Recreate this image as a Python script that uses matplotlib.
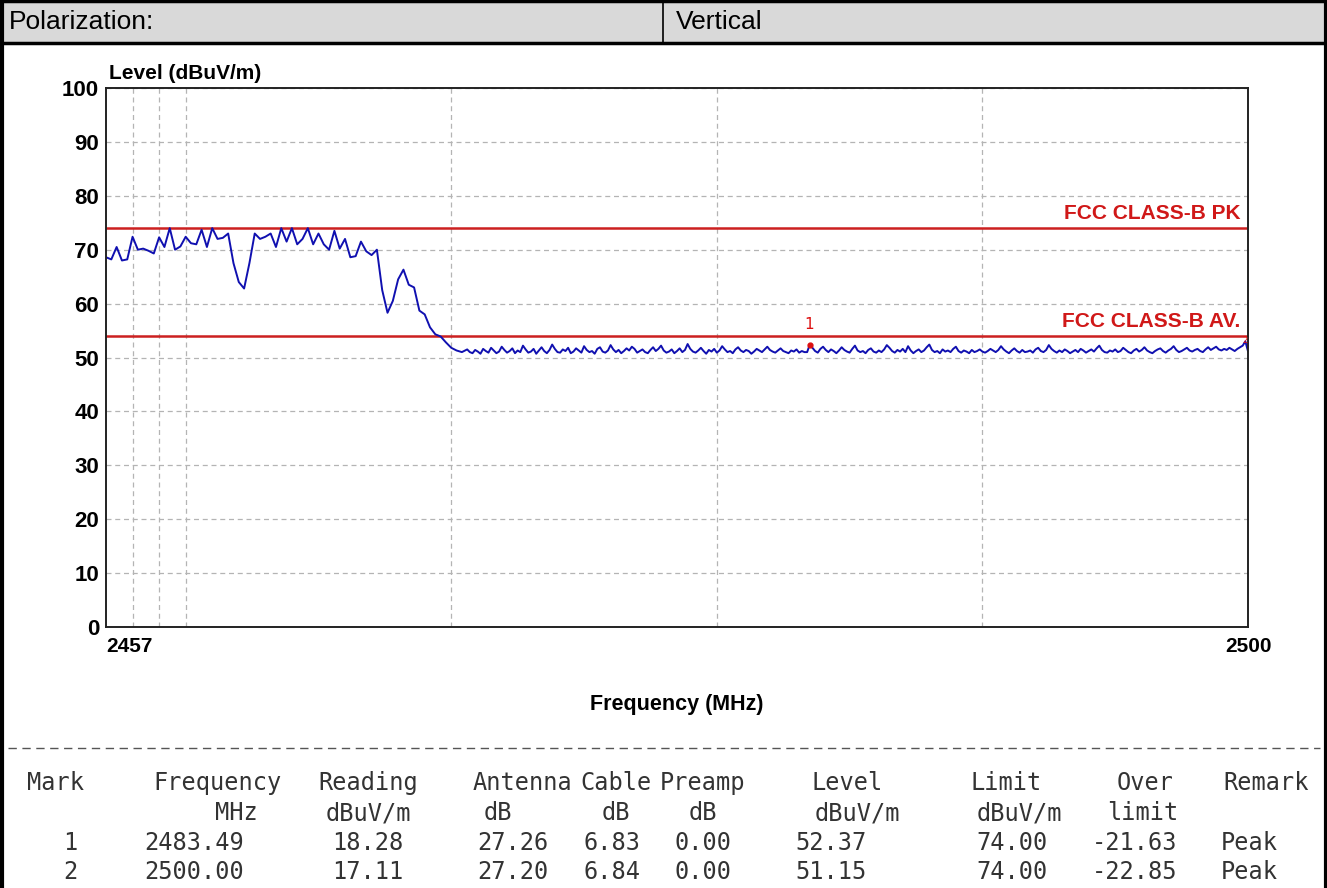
import numpy as np
import matplotlib
matplotlib.use("Agg")
import matplotlib.pyplot as plt
from matplotlib.patches import Rectangle
from matplotlib.lines import Line2D

# sweep, first part (0.2 MHz step from 2457 MHz)
level_head = [68.6, 68.2, 70.5, 68.0, 68.2, 72.4, 70.0, 70.2, 69.8, 69.3,
              72.3, 70.5, 74.0, 70.0, 70.6, 72.4, 71.2, 71.0, 73.7, 70.5,
              74.0, 72.0, 72.2, 73.0, 67.5, 64.0, 62.8, 67.5, 73.0, 72.0,
              72.4, 73.0, 70.5, 74.0, 71.5, 74.0, 71.0, 72.0, 74.0, 71.0,
              73.0, 71.0, 70.0, 73.5, 70.2, 72.0, 68.6, 68.8, 71.5, 69.7,
              69.0, 70.0, 62.5, 58.3, 60.5, 64.5, 66.3, 63.5, 63.0, 58.7,
              58.0, 55.6, 54.3, 53.9, 52.8, 51.8, 51.3, 51.0, 51.5]

# sweep, flat part (2470.7 .. 2500 MHz)
level_tail = [
    51.0, 50.8, 51.4, 51.1, 50.7, 51.6, 51.2, 50.9, 51.8, 51.3, 50.8, 51.1, 52.0, 51.4, 50.9,
    51.2, 51.7, 50.8, 51.3, 51.0, 52.2, 51.5, 50.9, 51.1, 51.6, 50.7, 51.3, 51.9, 51.2, 50.8,
    51.4, 52.4, 51.6, 51.0, 50.9, 51.5, 51.2, 51.8, 50.8, 51.1, 51.7, 51.3, 50.9, 52.1, 51.4,
    51.0, 51.2, 50.7, 51.6, 51.9, 51.1, 50.9, 51.3, 52.3, 51.5, 51.0, 51.4, 50.8, 51.2, 51.7,
    51.3, 52.0, 51.6, 50.9, 51.2, 51.5, 51.0, 50.8, 51.4, 51.9, 51.2, 51.6, 52.2, 51.3, 50.9,
    51.1, 51.5, 50.8, 51.2, 51.7, 51.0, 51.4, 52.5, 51.6, 51.1, 50.9, 51.3, 51.8, 51.2, 50.7,
    51.4, 51.1, 51.6, 50.9, 51.3, 52.1, 51.5, 51.0, 51.2, 50.8, 51.5, 51.9, 51.3, 51.0, 51.4,
    51.2, 50.7, 51.1, 51.6, 51.3, 51.0, 51.5, 52.0, 51.4, 51.1, 50.9, 51.3, 51.7, 51.2, 51.0,
    50.8, 51.3, 51.1, 51.5, 50.9, 51.2, 51.0, 51.0, 52.4, 51.8, 51.2, 50.9, 51.6, 52.0, 51.4,
    51.0, 51.5, 51.2, 50.8, 51.3, 51.9, 51.4, 51.1, 50.9, 51.6, 52.2, 51.3, 51.0, 51.2, 50.8,
    51.4, 51.7, 51.1, 50.9, 51.3, 51.0, 51.5, 52.3, 51.8, 51.2, 50.9, 51.4, 51.1, 51.6, 51.0,
    52.1, 51.3, 50.8, 51.2, 51.5, 51.0, 51.3, 51.9, 52.4, 51.4, 51.0, 51.2, 50.8, 51.5, 51.1,
    51.3, 51.0, 51.6, 52.0, 51.2, 50.9, 51.3, 51.1, 50.8, 51.4, 51.0, 51.2, 51.5, 51.1, 50.9,
    51.2, 51.6, 51.3, 51.0, 51.4, 52.1, 51.5, 51.1, 50.8, 51.3, 51.7, 51.2, 50.9, 51.4, 51.0,
    51.1, 51.3, 50.9, 51.5, 51.8, 51.2, 51.0, 51.4, 52.3, 51.6, 51.2, 50.9, 51.3, 51.0, 51.5,
    51.2, 50.8, 51.1, 51.4, 51.0, 51.6, 51.3, 50.9, 51.2, 51.5, 51.1, 51.7, 52.2, 51.4, 51.0,
    50.9, 51.3, 51.1, 51.5, 51.0, 51.2, 51.8, 51.4, 51.0, 50.8, 51.3, 51.6, 51.1, 51.4, 51.9,
    51.3, 51.0, 50.8, 51.2, 51.5, 51.7, 51.2, 50.9, 51.3, 51.6, 52.1, 51.4, 51.0, 51.2, 51.5,
    51.8, 51.3, 51.1, 51.4, 51.6, 51.2, 51.0, 51.5, 51.9, 51.4, 51.7, 52.0, 51.5, 51.3, 51.6,
    51.4, 51.8, 51.5, 51.2, 51.6, 51.9, 52.2, 53.0, 51.15]

freq_head = 2457.0 + 0.2 * np.arange(len(level_head))
freq_tail = np.linspace(2470.7, 2500.0, len(level_tail))
freq = np.concatenate([freq_head, freq_tail])
level = np.concatenate([level_head, level_tail])

limit_pk = 74.0
limit_av = 54.0
x_grid = [2458, 2459, 2460, 2470, 2480, 2490]
y_ticks = [0, 10, 20, 30, 40, 50, 60, 70, 80, 90, 100]

marker_freq = [2483.49, 2500.00]
marker_level = [52.37, 51.15]

tbl_head = ["Mark", "Frequency", "Reading", "Antenna", "Cable", "Preamp", "Level", "Limit", "Over", "Remark"]
tbl_unit = ["", "MHz", "dBuV/m", "dB", "dB", "dB", "dBuV/m", "dBuV/m", "limit", ""]
tbl_rows = [
    ["1", "2483.49", "18.28", "27.26", "6.83", "0.00", "52.37", "74.00", "-21.63", "Peak"],
    ["2", "2500.00", "17.11", "27.20", "6.84", "0.00", "51.15", "74.00", "-22.85", "Peak"],
]

W, H = 1327, 888
def fx(px):
    return px / W
def fy(py):
    return 1 - py / H

fig = plt.figure(figsize=(W / 100, H / 100), dpi=100)
sans = ["Liberation Sans", "DejaVu Sans"]

# header band and frame
fig.patches.append(Rectangle((0, fy(43)), 1, 43 / H, transform=fig.transFigure,
                             facecolor="#d9d9d9", edgecolor="none"))
fig.add_artist(Line2D([fx(663), fx(663)], [fy(0), fy(43)], color="black", lw=1.2))
fig.add_artist(Line2D([0, 1], [fy(43), fy(43)], color="black", lw=2.5))
fig.add_artist(Line2D([0, 1], [fy(1), fy(1)], color="black", lw=2.5))
fig.add_artist(Line2D([fx(1.5), fx(1.5)], [0, 1], color="black", lw=3))
fig.add_artist(Line2D([fx(1325.5), fx(1325.5)], [0, 1], color="black", lw=3))
fig.text(fx(9), fy(22), "Polarization:", fontsize=19, family=sans, va="center")
fig.text(fx(676), fy(22), "Vertical", fontsize=19, family=sans, va="center")

# chart
ax = fig.add_axes([fx(106), fy(627), fx(1248) - fx(106), fy(88) - fy(627)])
ax.set_xlim(2457, 2500)
ax.set_ylim(0, 100)
ax.set_yticks(y_ticks)
ax.set_yticklabels([str(v) for v in y_ticks], fontsize=16, fontweight="bold", family=sans)
ax.set_xticks([2457, 2500])
ax.set_xticklabels(["2457", "2500"], fontsize=15, fontweight="bold", family=sans)
ax.get_xticklabels()[0].set_ha("left")
ax.set_xticks(x_grid, minor=True)
ax.tick_params(axis="both", which="both", length=0)
ax.tick_params(axis="y", pad=5)
ax.tick_params(axis="x", pad=7)
ax.grid(axis="y", which="major", color="#b4b4b4", lw=0.9, ls=(0, (4, 3)))
ax.grid(axis="x", which="minor", color="#b4b4b4", lw=0.9, ls=(0, (4, 3)))
for sp in ax.spines.values():
    sp.set_color("#222222")
    sp.set_linewidth(1.4)

ax.axhline(limit_pk, color="#cc2020", lw=1.8)
ax.axhline(limit_av, color="#cc2020", lw=1.8)
ax.plot(freq, level, color="#1010b0", lw=1.4)
ax.plot(marker_freq[0], marker_level[0], marker="o", ms=3.5, color="#dd1010")
ax.text(marker_freq[0], marker_level[0] + 3.8, "1", color="#dd1010", fontsize=11,
        ha="center", va="center", family="DejaVu Sans")
ax.text(marker_freq[1] - 0.1, marker_level[1] + 2.0, "2", color="#dd1010", fontsize=6,
        ha="center", va="center", family="DejaVu Sans")

ax.text(2499.7, limit_pk + 0.9, "FCC CLASS-B PK", color="#d01818", fontsize=15,
        fontweight="bold", family=sans, ha="right", va="bottom")
ax.text(2499.7, limit_av + 0.9, "FCC CLASS-B AV.", color="#d01818", fontsize=15,
        fontweight="bold", family=sans, ha="right", va="bottom")

fig.text(fx(109), fy(79), "Level (dBuV/m)", fontsize=15, fontweight="bold", family=sans,
         va="baseline")
fig.text(fx(677), fy(704), "Frequency (MHz)", fontsize=15.5, fontweight="bold", family=sans,
         ha="center", va="center")

# separator
fig.add_artist(Line2D([fx(8), fx(1320)], [fy(748), fy(748)], color="#555555", lw=1,
                      ls=(0, (6, 4))))

# table
col_x = [56, 218, 368, 522, 616, 703, 847, 1006, 1145, 1266]
unit_x = [56, 236, 368, 498, 616, 703, 857, 1019, 1143, 1266]
row_x = [70, 194, 368, 513, 612, 703, 831, 1012, 1135, 1249]
mono = dict(family="DejaVu Sans Mono", fontsize=17, color="#333333", ha="center", va="center")
for x, t in zip(col_x, tbl_head):
    fig.text(fx(x), fy(783), t, **mono)
for x, t in zip(unit_x, tbl_unit):
    fig.text(fx(x), fy(813), t, **mono)
for r, row in enumerate(tbl_rows):
    for x, t in zip(row_x, row):
        fig.text(fx(x), fy(843 + 29 * r), t, **mono)

fig.savefig("out.png", dpi=100)
